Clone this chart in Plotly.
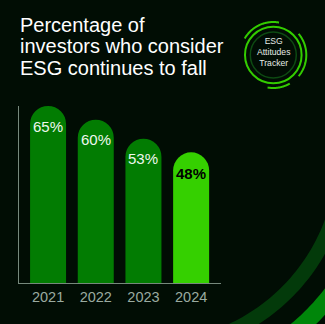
import numpy as np
import plotly.graph_objects as go

# ---- data ----
years = ["2021", "2022", "2023", "2024"]
values = [65, 60, 53, 48]
value_labels = ["65%", "60%", "53%", "48%"]
title_lines = ["Percentage of", "investors who consider", "ESG continues to fall"]
badge_lines = ["ESG", "Attitudes", "Tracker"]

# ---- styles ----
bar_colors = ["#027c02", "#027c02", "#027c02", "#35d000"]
label_colors = ["#eef8ee", "#eef8ee", "#eef8ee", "#000000"]
label_weights = [400, 400, 400, 700]
BG = "#010d04"
AXIS = "#76887c"
FONT = "Arial, Liberation Sans, sans-serif"

W, H = 325, 324


def px(x):
    return x / W


def py(y):
    return 1 - y / H


def arc_path(cx, cy, r, a0, a1, n=60):
    t = np.radians(np.linspace(a0, a1, n))
    xs = cx + r * np.cos(t)
    ys = cy - r * np.sin(t)
    pts = [f"{px(x):.5f},{py(y):.5f}" for x, y in zip(xs, ys)]
    return "M " + " L ".join(pts)


def sector_path(cx, cy, r1, r2, a0, a1, n=80):
    t = np.radians(np.linspace(a0, a1, n))
    outer = [(cx + r2 * np.cos(a), cy + r2 * np.sin(a)) for a in t]
    inner = [(cx + r1 * np.cos(a), cy + r1 * np.sin(a)) for a in t[::-1]]
    pts = [f"{px(x):.5f},{py(y):.5f}" for x, y in outer + inner]
    return "M " + " L ".join(pts) + " Z"


fig = go.Figure(
    go.Bar(
        x=years,
        y=values,
        marker=dict(color=bar_colors, cornerradius="50%", line=dict(width=0)),
        hoverinfo="skip",
    )
)

annotations = []
for i, (v, lab) in enumerate(zip(values, value_labels)):
    annotations.append(
        dict(
            x=i, y=v, xref="x", yref="y", text=lab, showarrow=False,
            yanchor="middle", xanchor="center", yshift=-20 if i < 3 else -21,
            font=dict(family=FONT, size=15, color=label_colors[i], weight=label_weights[i]),
        )
    )

title_centers = [24.5, 46.2, 67.9]
for line, yc in zip(title_lines, title_centers):
    annotations.append(
        dict(
            x=px(18), y=py(yc), xref="paper", yref="paper", text=line,
            showarrow=False, xanchor="left", yanchor="middle",
            font=dict(family=FONT, size=20, color="#ffffff"),
        )
    )

badge_cx, badge_cy = 273.3, 55
annotations.append(
    dict(
        x=px(badge_cx), y=py(52.5), xref="paper", yref="paper",
        text="<br>".join(badge_lines),
        showarrow=False, xanchor="center", yanchor="middle", align="center",
        font=dict(family=FONT, size=8.6, color="#e6ece6"),
    )
)

shapes = []
# decorative corner arcs
shapes.append(dict(type="path", xref="paper", yref="paper",
                   path=sector_path(150, 155, 186.5, 201, 0, 90),
                   fillcolor="#033a0a", line=dict(width=0), layer="below"))
shapes.append(dict(type="path", xref="paper", yref="paper",
                   path=sector_path(150, 155, 220, 237, 0, 90),
                   fillcolor="#00860a", line=dict(width=0), layer="below"))


def circle(cx, cy, r, color, w):
    return dict(type="circle", xref="paper", yref="paper",
                x0=px(cx - r), x1=px(cx + r), y0=py(cy + r), y1=py(cy - r),
                line=dict(color=color, width=w), fillcolor="rgba(0,0,0,0)")


shapes.append(circle(badge_cx, badge_cy, 23, "#0d4a12", 1.5))
shapes.append(circle(badge_cx, badge_cy, 28.3, "#33cc00", 2))
for a0, a1 in [(80, 150), (-40, 40), (-100, -60)]:
    shapes.append(dict(type="path", xref="paper", yref="paper",
                       path=arc_path(badge_cx, badge_cy, 33, a0, a1),
                       line=dict(color="#33cc00", width=2)))

fig.update_layout(
    width=W, height=H,
    margin=dict(l=0, r=0, t=0, b=0),
    paper_bgcolor=BG, plot_bgcolor=BG,
    showlegend=False,
    bargap=0.245,
    annotations=annotations,
    shapes=shapes,
    xaxis=dict(
        type="category",
        domain=[px(18.5), px(220.7)], range=[-0.62, 3.62],
        showline=True, linecolor=AXIS, linewidth=1, showgrid=False,
        zeroline=False, ticks="", fixedrange=True,
        tickfont=dict(family=FONT, size=14.5, color="#9aaba0"),
    ),
    yaxis=dict(
        domain=[py(283.3), py(106)], range=[0, 65],
        showline=True, linecolor=AXIS, linewidth=1, showgrid=False,
        zeroline=False, showticklabels=False, ticks="", fixedrange=True,
    ),
)

fig.write_html("out.html", config={"displayModeBar": False})
